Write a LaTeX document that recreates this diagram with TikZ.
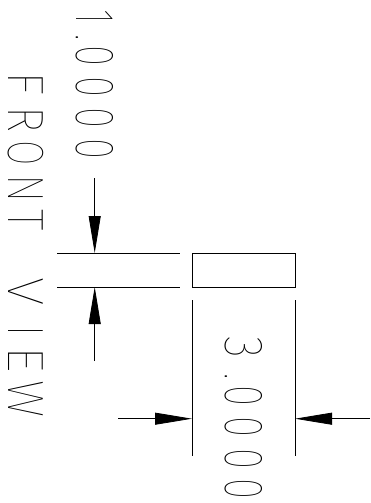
\documentclass[tikz,border=0pt]{standalone}
\usepackage{graphicx}
\usepackage{fontspec}
\usetikzlibrary{arrows.meta}
\newfontfamily\cadfont[FakeStretch=0.8]{Fira Sans Thin}
\newfontfamily\caddigits[FakeStretch=0.7]{Fira Sans Thin}
\newcommand{\lcell}[2]{\makebox[34.3pt][l]{\hspace{-2pt}\scalebox{#1}[1]{#2}}}
\newcommand{\dcell}[1]{\makebox[31pt][l]{#1}}
\tikzset{
	dimline/.style={line width=0.8pt},
	dimarrow/.style={line width=0.8pt,-{Triangle[length=37pt,width=12pt]}},
	dimtext/.style={rotate=-90,anchor=base west,inner sep=0pt,outer sep=0pt}
}

\begin{document}
\begin{tikzpicture}[x=1pt,y=-1pt]
	\useasboundingbox (0,0) rectangle (370,503);
	\node[draw,line width=0.8pt,minimum width=103pt,minimum height=34pt,inner sep=0pt,anchor=north west] (part) at (192,253) {};
	% extension lines
	\coordinate (topl) at (57,253);
	\coordinate (topr) at (180,253);
	\coordinate (botl) at (57,287);
	\coordinate (botr) at (180,287);
	\coordinate (leftt) at (192,300);
	\coordinate (leftb) at (192,456);
	\coordinate (rightt) at (295,300);
	\coordinate (rightb) at (295,456);
	\draw[dimline] (topl) -- (topr);
	\draw[dimline] (botl) -- (botr);
	\draw[dimline] (leftt) -- (leftb);
	\draw[dimline] (rightt) -- (rightb);
	% dimension arrows
	\coordinate (hta) at (94.7,178);
	\coordinate (htb) at (94.7,253);
	\coordinate (hba) at (94.7,361);
	\coordinate (hbb) at (94.7,287);
	\coordinate (wla) at (118,418.7);
	\coordinate (wlb) at (192,418.7);
	\coordinate (wra) at (370,418.7);
	\coordinate (wrb) at (295,418.7);
	\draw[dimarrow] (hta) -- (htb);
	\draw[dimarrow] (hba) -- (hbb);
	\draw[dimarrow] (wla) -- (wlb);
	\draw[dimarrow] (wra) -- (wrb);
	% texts
	\node[dimtext,font=\cadfont\fontsize{51}{51}\selectfont] (title) at (9,74) {\lcell{1.25}{F}\lcell{1.12}{R}\lcell{0.9}{O}\lcell{1.05}{N}\lcell{1.1}{T}\lcell{1}{~}\lcell{1.3}{V}\makebox[34.3pt][c]{I}\lcell{1.3}{E}\lcell{1.15}{W}};
	\node[dimtext,font=\caddigits\fontsize{55}{55}\selectfont] (height) at (76,10) {\makebox[25pt][l]{1}\makebox[11pt][l]{.}\dcell{0}\dcell{0}\dcell{0}\dcell{0}};
	\node[dimtext,font=\caddigits\fontsize{55}{55}\selectfont] (width) at (225,336) {\makebox[37pt][l]{\scalebox{1.2}[1]{3}}\makebox[13pt][l]{.}\dcell{0}\dcell{0}\dcell{0}\dcell{0}};
\end{tikzpicture}
\end{document}
